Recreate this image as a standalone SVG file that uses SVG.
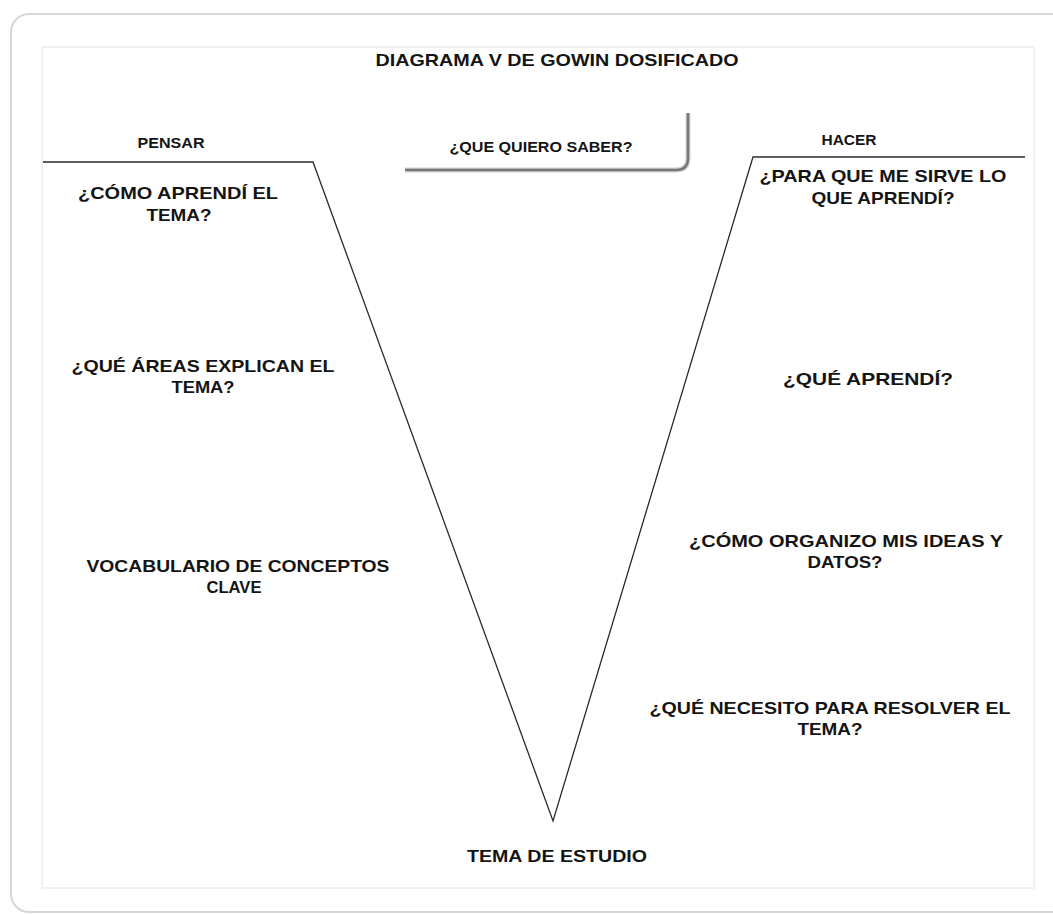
<svg xmlns="http://www.w3.org/2000/svg" width="1053" height="915" viewBox="0 0 1053 915">
<defs>
<style>
.t{font-family:"Liberation Sans",Arial,sans-serif;font-weight:bold;font-size:17px;fill:#141414;text-anchor:middle}
.n{font-family:"Liberation Sans",Arial,sans-serif;font-weight:bold;font-size:15px;fill:#141414;text-anchor:middle}
.ln{stroke:#2a2a2a;stroke-width:1.3;fill:none}
</style>
</defs>
<rect x="0" y="0" width="1053" height="915" fill="#ffffff"/>
<rect x="11" y="14" width="1070" height="898" rx="18" fill="#fff" stroke="#d6d6d6" stroke-width="2"/>
<rect x="42" y="47" width="992" height="841" fill="#fff" stroke="#ececec" stroke-width="1.5"/>

<g id="title"><text class="t" x="557" y="66" textLength="363" lengthAdjust="spacingAndGlyphs">DIAGRAMA V DE GOWIN DOSIFICADO</text></g>

<g id="connectors">
<polyline class="ln" points="43,162 313,162 553,821 753,157 1025,157"/>
</g>

<g id="question-box">
<path d="M688,113 L688,158 Q688,170 676,170 L405,170" fill="none" stroke="#cfcfcf" stroke-width="5"/>
<path d="M688,113 L688,158 Q688,170 676,170 L405,170" fill="none" stroke="#777" stroke-width="2.5"/>
<text class="n" x="541" y="152" textLength="183" lengthAdjust="spacingAndGlyphs">¿QUE QUIERO SABER?</text>
</g>

<g id="pensar"><text class="n" x="171" y="148" textLength="67" lengthAdjust="spacingAndGlyphs">PENSAR</text></g>
<g id="hacer"><text class="n" x="849" y="145" textLength="55" lengthAdjust="spacingAndGlyphs">HACER</text></g>

<g id="como-aprendi">
<text class="t" x="178" y="199" textLength="200" lengthAdjust="spacingAndGlyphs">¿CÓMO APRENDÍ EL</text>
<text class="t" x="179" y="221" textLength="65" lengthAdjust="spacingAndGlyphs">TEMA?</text>
</g>
<g id="areas">
<text class="t" x="203" y="372" textLength="263" lengthAdjust="spacingAndGlyphs">¿QUÉ ÁREAS EXPLICAN EL</text>
<text class="t" x="203" y="393" textLength="63" lengthAdjust="spacingAndGlyphs">TEMA?</text>
</g>
<g id="vocabulario">
<text class="t" x="238" y="572" textLength="303" lengthAdjust="spacingAndGlyphs">VOCABULARIO DE CONCEPTOS</text>
<text class="t" x="234" y="593" textLength="55" lengthAdjust="spacingAndGlyphs">CLAVE</text>
</g>
<g id="para-que">
<text class="t" x="883" y="182" textLength="247" lengthAdjust="spacingAndGlyphs">¿PARA QUE ME SIRVE LO</text>
<text class="t" x="883" y="204" textLength="143" lengthAdjust="spacingAndGlyphs">QUE APRENDÍ?</text>
</g>
<g id="que-aprendi">
<text class="t" x="868" y="385" textLength="170" lengthAdjust="spacingAndGlyphs">¿QUÉ APRENDÍ?</text>
</g>
<g id="organizo">
<text class="t" x="846" y="547" textLength="314" lengthAdjust="spacingAndGlyphs">¿CÓMO ORGANIZO MIS IDEAS Y</text>
<text class="t" x="845" y="568" textLength="75" lengthAdjust="spacingAndGlyphs">DATOS?</text>
</g>
<g id="necesito">
<text class="t" x="830" y="714" textLength="361" lengthAdjust="spacingAndGlyphs">¿QUÉ NECESITO PARA RESOLVER EL</text>
<text class="t" x="830" y="735" textLength="65" lengthAdjust="spacingAndGlyphs">TEMA?</text>
</g>
<g id="tema-estudio">
<text class="t" x="557" y="862" textLength="180" lengthAdjust="spacingAndGlyphs">TEMA DE ESTUDIO</text>
</g>
</svg>
